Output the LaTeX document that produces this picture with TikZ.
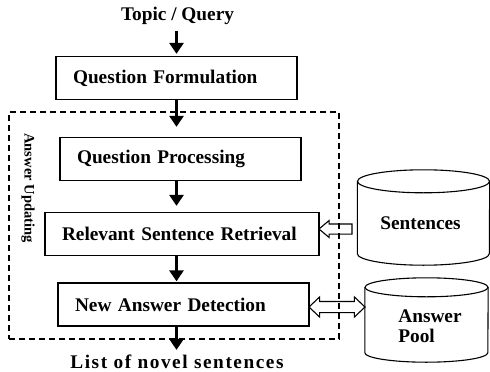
\documentclass[tikz,border=0pt]{standalone}
\usepackage{fontspec}
\setmainfont{Liberation Serif}
\newfontfamily\spaced[LetterSpace=8]{Liberation Serif}
\usetikzlibrary{arrows.meta, positioning, shapes.arrows, calc}
\tikzset{
  lbl/.style    = {font=\bfseries\fontsize{19.3}{21}\selectfont, inner sep=0pt},
  stage/.style  = {lbl, draw, line width=1.3pt, align=left, inner xsep=17pt,
                   minimum height=43pt},
  group/.style  = {draw, line width=1.5pt, dash pattern=on 6pt off 4pt},
  cyl/.style    = {line width=1.1pt},
  flow/.style   = {-{Triangle[length=11pt, width=14pt]}, line width=3.5pt},
  hollow/.style = {single arrow, draw, line width=1.1pt, inner xsep=0pt,
                   inner ysep=4.5pt, single arrow head extend=3.5pt,
                   single arrow head indent=0pt, single arrow tip angle=80},
  twoway/.style = {double arrow, draw, line width=1.1pt, inner xsep=0pt,
                   inner ysep=5pt, double arrow head extend=4.5pt,
                   double arrow head indent=0pt, double arrow tip angle=87},
}

\begin{document}
\begin{tikzpicture}[x=1pt, y=-1pt]
    \useasboundingbox (0,0) rectangle (490,372);

    \node[group, minimum width=330pt, minimum height=227pt] (upd) at (174,225.5) {};
    \node[lbl, font=\bfseries\fontsize{14.5}{16}\selectfont, rotate=-90] (updlbl) at (28,188)
      {Answer Updating};

    \node[lbl] (topic) at (177.5,16) {Topic / Query};
    \node[stage, text width=207pt] (form) at (176.5,78)    {Question Formulation};
    \node[stage, text width=207pt] (proc) at (180.5,159)   {Question Processing};
    \node[stage, text width=240pt] (retr) at (182,234)     {Relevant Sentence Retrieval};
    \node[stage, text width=217pt] (det)  at (183.5,304.5) {New Answer Detection};
    \node[lbl, font=\bfseries\spaced\fontsize{19.3}{21}\selectfont] (novel) at (177,362)
      {List of novel sentences};

    % the two stores
    \node[minimum width=132pt, minimum height=95pt, inner sep=0pt] (sent) at (423.5,217.5) {};
    \draw[cyl] ([yshift=-11.5pt]sent.north) ellipse [x radius=66pt, y radius=11.5pt];
    \draw[cyl] ([yshift=-11.5pt]sent.north west) -- ([yshift=11.5pt]sent.south west)
      arc[start angle=180, end angle=360, x radius=66pt, y radius=11.5pt]
      -- ([yshift=-11.5pt]sent.north east);
    \node[lbl] (senttxt) at (420.5,223) {Sentences};

    \node[minimum width=123pt, minimum height=84pt, inner sep=0pt] (pool) at (426.5,320) {};
    \draw[cyl] ([yshift=-9.5pt]pool.north) ellipse [x radius=61.5pt, y radius=9.5pt];
    \draw[cyl] ([yshift=-9.5pt]pool.north west) -- ([yshift=9.5pt]pool.south west)
      arc[start angle=180, end angle=360, x radius=61.5pt, y radius=9.5pt]
      -- ([yshift=-9.5pt]pool.north east);
    \node[lbl, align=left, font=\bfseries\fontsize{19.3}{20}\selectfont] (pooltxt) at (430,326)
      {Answer\\Pool};

    \draw[flow, shorten <=6pt, shorten >=2pt] (topic.south -| form) -- (form.north);
    \draw[flow, shorten >=10pt] (form.south) -- (form.south |- proc.north);
    \draw[flow, shorten >=6pt] (proc.south -| form) -- (retr.north -| form);
    \draw[flow, shorten >=1pt] (retr.south -| form) -- (det.north -| form);
    \draw[flow, shorten >=5pt] (det.south -| form) -- (novel.north -| form);

    % hollow arrows to and from the stores
    \node[hollow, shape border rotate=180, minimum height=33pt] (fetch) at (338.5,229) {};
    \node[twoway, minimum height=56pt] (swap) at (337,307) {};
\end{tikzpicture}
\end{document}
